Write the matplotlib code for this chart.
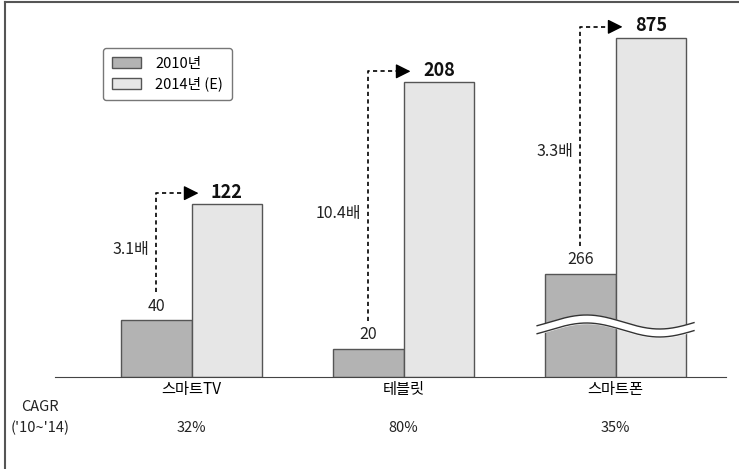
import matplotlib.pyplot as plt
import numpy as np
from matplotlib.lines import Line2D

plt.rcParams['font.family'] = ['Noto Sans CJK KR', 'DejaVu Sans']

categories = ['스마트TV', '테블릿', '스마트폰']
v2010 = [40, 20, 266]
v2014 = [122, 208, 875]
growth = ['3.1배', '10.4배', '3.3배']
cagr = ['32%', '80%', '35%']
broken = [False, False, True]
legend_labels = ['2010년', '2014년 (E)']

c2010 = '#b3b3b3'
c2014 = '#e6e6e6'
edge = '#555555'
w = 0.333

fig = plt.figure(figsize=(7.39, 4.69), dpi=100)
ax = fig.add_axes([55 / 739, 92 / 469, 671 / 739, 357 / 469])
ax2 = ax.twinx()
ax.set_xlim(-0.644, 2.521)
ax.set_ylim(0, 252)
ax2.set_ylim(0, 921)

x = np.arange(len(categories))
for i in x:
    a = ax2 if broken[i] else ax
    a.bar(i - w / 2, v2010[i], w, color=c2010, edgecolor=edge, linewidth=1, zorder=2)
    a.bar(i + w / 2, v2014[i], w, color=c2014, edgecolor=edge, linewidth=1, zorder=2)

for a in (ax, ax2):
    for s in ('top', 'right', 'left'):
        a.spines[s].set_visible(False)
    a.set_yticks([])
ax2.spines['bottom'].set_visible(False)
ax.spines['bottom'].set_color('#444444')
ax.set_xticks(x)
ax.set_xticklabels(categories, fontsize=11)
ax.tick_params(axis='x', length=0, pad=3)

# annotations (offsets in pixels)
ppx = ax.transData.transform((1, 0))[0] - ax.transData.transform((0, 0))[0]
dash = (0, (2.5, 2))
for i in x:
    a = ax2 if broken[i] else ax
    ppu = a.transData.transform((0, 1))[1] - a.transData.transform((0, 0))[1]
    x0 = i - w / 2
    x1 = i + w / 2
    y_lab0 = v2010[i] + 14 / ppu
    y_bot = v2010[i] + 28 / ppu
    y_top = v2014[i] + 11 / ppu
    a.text(x0, y_lab0, str(v2010[i]), ha='center', va='center', fontsize=11.5, color='#222222')
    a.text(x1, y_top + 1 / ppu, str(v2014[i]), ha='center', va='center', fontsize=13,
           fontweight='bold', color='#111111')
    tip = i + 7 / ppx
    a.plot([x0, x0, tip - 10 / ppx], [y_bot, y_top, y_top], color='black', lw=1.2,
           ls=dash, zorder=3)
    a.annotate('', xy=(tip, y_top), xytext=(tip - 11 / ppx, y_top),
               arrowprops=dict(arrowstyle='-|>,head_length=0.9,head_width=0.45',
                               color='black', lw=1, shrinkA=0, shrinkB=0))
    ym = y_top + (y_bot - y_top) * 0.57
    a.text(x0 - 7 / ppx, ym, growth[i], ha='right', va='center', fontsize=11.5, color='#222222')

    if broken[i]:
        xs = np.linspace(i - 0.37, i + 0.37, 200)
        yc = 51 / ppu + 7 / ppu * np.cos(2 * np.pi * ((xs - i) * ppx + 29) / 146)
        half = 4 / ppu
        a.fill_between(xs, yc - half, yc + half, color='white', zorder=4)
        a.plot(xs, yc + half, color='#333333', lw=1, zorder=5)
        a.plot(xs, yc - half, color='#333333', lw=1, zorder=5)

# CAGR row
fig.text(40 / 739, 1 - 407 / 469, 'CAGR', ha='center', va='center', fontsize=10.5, color='#222222')
fig.text(40 / 739, 1 - 428 / 469, "('10~'14)", ha='center', va='center', fontsize=10.5,
         color='#222222')
for i in x:
    xf = fig.transFigure.inverted().transform(ax.transData.transform((i, 0)))[0]
    fig.text(xf, 1 - 428 / 469, cagr[i], ha='center', va='center', fontsize=10.5, color='#222222')

handles = [plt.Rectangle((0, 0), 1, 1, facecolor=c, edgecolor=edge, linewidth=1)
           for c in (c2010, c2014)]
leg = ax.legend(handles, legend_labels, loc='upper left', bbox_to_anchor=(0.0715, 0.922),
                borderaxespad=0, fontsize=10.5, frameon=True, fancybox=True,
                edgecolor='#555555', handlelength=2.0, handleheight=0.8, labelspacing=0.4,
                borderpad=0.6, handletextpad=1.0)
leg.get_frame().set_linewidth(1)

# outer frame (left and top edges)
fig.add_artist(Line2D([5 / 739, 5 / 739], [0, 1 - 2 / 469], color='#555555', lw=1.5))
fig.add_artist(Line2D([5 / 739, 1], [1 - 2 / 469, 1 - 2 / 469], color='#555555', lw=1.5))

fig.savefig('out.png', dpi=100)
